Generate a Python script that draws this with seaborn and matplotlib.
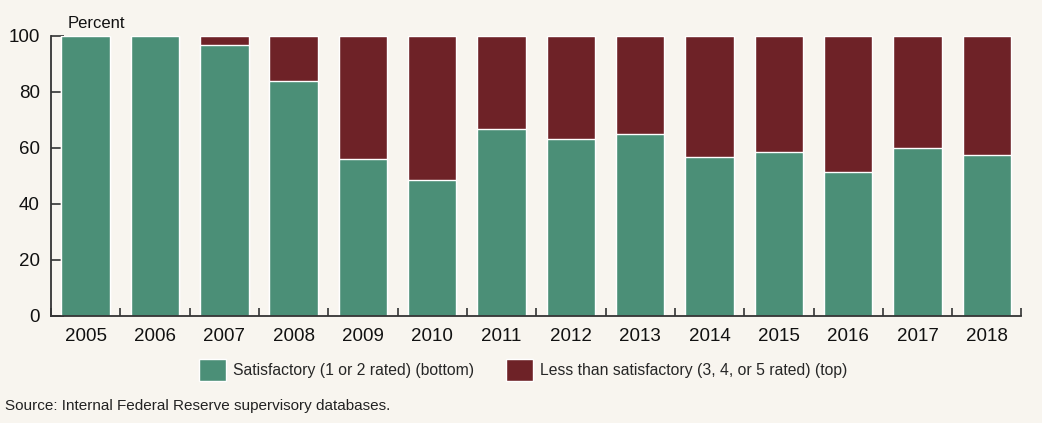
import numpy as np
import pandas as pd
import matplotlib
matplotlib.use("Agg")
import matplotlib.pyplot as plt
import seaborn as sns
from matplotlib.patches import Patch

anos = ["2005", "2006", "2007", "2008", "2009", "2010", "2011",
        "2012", "2013", "2014", "2015", "2016", "2017", "2018"]
satisfatorio = [100, 100, 96.8, 84.0, 56.0, 48.6, 66.8,
                63.2, 65.0, 56.8, 58.5, 51.4, 60.0, 57.6]
insatisfatorio = [0, 0, 3.2, 16.0, 44.0, 51.4, 33.2,
                  36.8, 35.0, 43.2, 41.5, 48.6, 40.0, 42.4]

df = pd.DataFrame({"ano": anos, "sat": satisfatorio, "insat": insatisfatorio})
df["total"] = df["sat"] + df["insat"]

fundo = "#f8f5ef"
verde = "#4b8f77"
vermelho = "#6e2227"

sns.set_style("ticks")
plt.rcParams["font.family"] = ["Liberation Sans", "DejaVu Sans"]

fig = plt.figure(figsize=(10.42, 4.23), dpi=100, facecolor=fundo)
ax = fig.add_axes([0.0489, 0.253, 0.9314, 0.662])
ax.set_facecolor(fundo)

# vermelho = total (fica por cima), verde desenhado por cima dele
sns.barplot(data=df, x="ano", y="total", color=vermelho, width=0.7,
            edgecolor="white", linewidth=1, ax=ax, saturation=1)
sns.barplot(data=df, x="ano", y="sat", color=verde, width=0.7,
            edgecolor="white", linewidth=1, ax=ax, saturation=1)

ax.set_xlim(-0.5, len(anos) - 0.5)
ax.set_ylim(0, 100)
ax.set_yticks([0, 20, 40, 60, 80, 100])
ax.set_xlabel("")
ax.set_ylabel("")
ax.set_xticks(np.arange(-0.5, len(anos), 1), minor=True)
ax.tick_params(axis="x", which="major", length=0, labelsize=13.5, pad=9, colors="#111111")
ax.tick_params(axis="x", which="minor", direction="in", length=6, width=1.2, color="#333333")
ax.tick_params(axis="y", direction="in", length=9, width=1.2, labelsize=13.5, pad=8,
               color="#333333", labelcolor="#111111")
for lado in ["top", "right"]:
    ax.spines[lado].set_visible(False)
for lado in ["left", "bottom"]:
    ax.spines[lado].set_linewidth(1.3)
    ax.spines[lado].set_color("#333333")

fig.text(0.065, 0.945, "Percent", fontsize=12, color="#111111", va="center")

handles = [Patch(facecolor=verde, label="Satisfactory (1 or 2 rated) (bottom)"),
           Patch(facecolor=vermelho, label="Less than satisfactory (3, 4, or 5 rated) (top)")]
fig.legend(handles=handles, loc="center", bbox_to_anchor=(0.502, 0.125), ncol=2,
           frameon=False, fontsize=11.3, handlelength=1.75, handleheight=1.75,
           handletextpad=0.45, columnspacing=2.0, borderaxespad=0)

fig.text(0.005, 0.04, "Source: Internal Federal Reserve supervisory databases.",
         fontsize=11, color="#222222", va="center")

fig.savefig("out.png", dpi=100, facecolor=fundo)
